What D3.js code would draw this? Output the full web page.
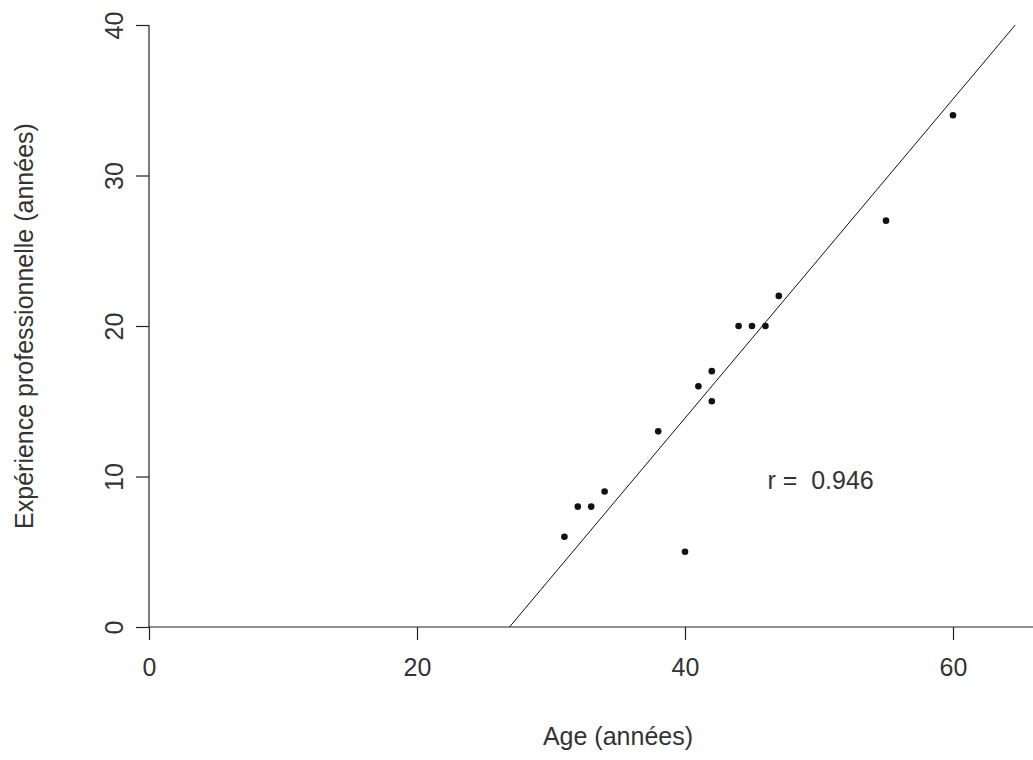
<!DOCTYPE html>
<html>
<head>
<meta charset="utf-8">
<script src="https://cdn.jsdelivr.net/npm/d3@7"></script>
<style>
  html, body { margin: 0; padding: 0; background: #fff; }
  svg { display: block; }
  text { font-family: "Liberation Sans", Arial, sans-serif; fill: #333; }
</style>
</head>
<body>
<svg id="chart" width="1033" height="760"></svg>
<script>
// Age and professional experience (years) of each person
const ages       = [31, 32, 33, 34, 38, 40, 41, 42, 42, 44, 45, 46, 47, 55, 60];
const experience = [ 6,  8,  8,  9, 13,  5, 16, 17, 15, 20, 20, 20, 22, 27, 34];

const xTicks = [0, 20, 40, 60];
const yTicks = [0, 10, 20, 30, 40];
const xDomain = [0, 70];
const yDomain = [0, 40];

const xTitle = "Age (années)";
const yTitle = "Expérience professionnelle (années)";

const svg = d3.select("#chart");
const fontSize = 25;

const x = d3.scaleLinear().domain(xDomain).range([149, 1087]);
const y = d3.scaleLinear().domain(yDomain).range([627, 25]);

// Summary statistics
const mx = d3.mean(ages), my = d3.mean(experience);
let sxy = 0, sxx = 0, syy = 0;
ages.forEach((a, i) => {
  const dx = a - mx, dy = experience[i] - my;
  sxy += dx * dy; sxx += dx * dx; syy += dy * dy;
});
const r = sxy / Math.sqrt(sxx * syy);
// Regression of age on experience, drawn across the full vertical range
const bxy = sxy / syy;
const fitLine = yDomain.map(v => ({ xv: mx + bxy * (v - my), yv: v }));

// Axes: left and bottom edges with outward ticks
const axisColor = "#222";
svg.append("line")
  .attr("x1", x(xDomain[0])).attr("x2", x(xDomain[1]))
  .attr("y1", y(0)).attr("y2", y(0))
  .attr("stroke", axisColor).attr("stroke-width", 1.2);
svg.append("line")
  .attr("x1", x(0)).attr("x2", x(0))
  .attr("y1", y(yDomain[0])).attr("y2", y(yDomain[1]))
  .attr("stroke", axisColor).attr("stroke-width", 1.2);

const xAxis = svg.append("g").attr("transform", `translate(0,${y(0)})`)
  .call(d3.axisBottom(x).tickValues(xTicks).tickSize(13).tickPadding(18).tickFormat(d3.format("d")));
xAxis.select(".domain").remove();
xAxis.selectAll(".tick line").attr("stroke", axisColor).attr("stroke-width", 1.2);
xAxis.selectAll(".tick text")
  .attr("font-size", fontSize).attr("font-family", null).attr("fill", "#333");

const yAxis = svg.append("g").attr("transform", `translate(${x(0)},0)`)
  .call(d3.axisLeft(y).tickValues(yTicks).tickSize(13).tickFormat(d3.format("d")));
yAxis.select(".domain").remove();
yAxis.selectAll(".tick line").attr("stroke", axisColor).attr("stroke-width", 1.2);
yAxis.selectAll(".tick text")
  .attr("font-size", fontSize).attr("font-family", null).attr("fill", "#333")
  .attr("transform", "rotate(-90)")
  .attr("x", 0).attr("y", -26).attr("dy", 0)
  .attr("text-anchor", "middle");

// Fitted line
svg.append("line")
  .attr("x1", x(fitLine[0].xv)).attr("y1", y(fitLine[0].yv))
  .attr("x2", x(fitLine[1].xv)).attr("y2", y(fitLine[1].yv))
  .attr("stroke", "#111").attr("stroke-width", 1);

// Points
svg.append("g").selectAll("circle")
  .data(ages.map((a, i) => ({ a, e: experience[i] })))
  .join("circle")
  .attr("cx", d => x(d.a)).attr("cy", d => y(d.e))
  .attr("r", 3.3).attr("fill", "#111");

// Correlation coefficient
svg.append("text")
  .attr("x", x(46.15)).attr("y", y(9.2))
  .attr("font-size", fontSize)
  .attr("xml:space", "preserve")
  .text("r =  " + d3.format(".3f")(r));

// Axis titles
svg.append("text")
  .attr("x", (x(xDomain[0]) + x(xDomain[1])) / 2).attr("y", 745)
  .attr("text-anchor", "middle").attr("font-size", fontSize)
  .text(xTitle);

svg.append("text")
  .attr("transform", `translate(33,${(y(yDomain[0]) + y(yDomain[1])) / 2}) rotate(-90)`)
  .attr("text-anchor", "middle").attr("font-size", fontSize)
  .text(yTitle);
</script>
</body>
</html>
